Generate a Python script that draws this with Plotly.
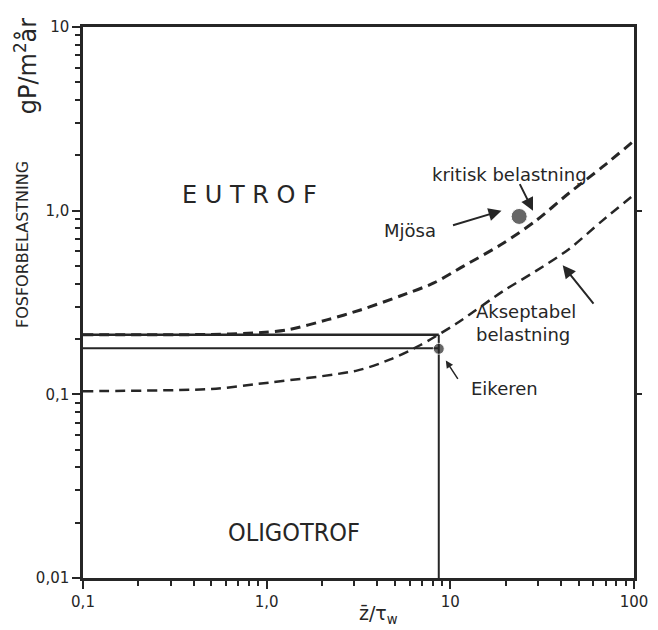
import numpy as np
import plotly.graph_objects as go

# ---- data ----
x_crit = [0.1, 0.5, 0.935, 1.31, 2.15, 3.24, 5.33, 8.13, 11.8, 19.4, 29.3, 44.0, 67.3, 100.0]
y_crit = [0.211, 0.212, 0.217, 0.225, 0.255, 0.288, 0.343, 0.404, 0.499, 0.664, 0.883, 1.24, 1.73, 2.40]

x_acc = [0.1, 0.5, 0.902, 3.13, 4.71, 6.84, 10.8, 19.4, 29.3, 44.0, 67.3, 100.0]
y_acc = [0.104, 0.107, 0.114, 0.135, 0.155, 0.185, 0.243, 0.365, 0.470, 0.615, 0.883, 1.22]

lakes = ["Mjösa", "Eikeren"]
lake_x = [23.7, 8.65]
lake_y = [0.93, 0.177]

ref_h_upper = 0.211   # horizontal line level (critical at low z/tw)
ref_h_lower = 0.178   # horizontal line through Eikeren
x_lo, x_hi = 0.1, 100
y_lo, y_hi = 0.01, 10

x_tickvals = [0.1, 1, 10, 100]
x_ticktext = ["0,1", "1,0", "10", "100"]
y_tickvals = [0.01, 0.1, 1, 10]
y_ticktext = ["0,01", "0,1", "1,0", "10"]

FONT_C = "DejaVu Sans Condensed, DejaVu Sans, sans-serif"
FONT = "DejaVu Sans, sans-serif"
INK = "#262626"
DASH = "10px,6px"

minor_vals_x = [m * d for d in (0.1, 1, 10) for m in range(2, 10)]
minor_vals_y = [m * d for d in (0.01, 0.1, 1) for m in range(2, 10)]

fig = go.Figure()

# reference lines for Eikeren
fig.add_trace(go.Scatter(x=[x_lo, lake_x[1]], y=[ref_h_upper, ref_h_upper], mode="lines",
                         line=dict(color=INK, width=2.5), hoverinfo="skip", showlegend=False))
fig.add_trace(go.Scatter(x=[x_lo, lake_x[1]], y=[ref_h_lower, ref_h_lower], mode="lines",
                         line=dict(color=INK, width=2), hoverinfo="skip", showlegend=False))
fig.add_trace(go.Scatter(x=[lake_x[1], lake_x[1]], y=[ref_h_upper, y_lo], mode="lines",
                         line=dict(color=INK, width=2), hoverinfo="skip", showlegend=False))

# curves
fig.add_trace(go.Scatter(x=x_crit, y=y_crit, mode="lines",
                         line=dict(color=INK, width=3, dash=DASH, shape="spline", smoothing=0.8),
                         showlegend=False, name="kritisk belastning"))
fig.add_trace(go.Scatter(x=x_acc, y=y_acc, mode="lines",
                         line=dict(color=INK, width=2.5, dash=DASH, shape="spline", smoothing=0.8),
                         showlegend=False, name="akseptabel belastning"))

# lakes
fig.add_trace(go.Scatter(x=lake_x, y=lake_y, mode="markers",
                         marker=dict(color=INK, size=[16, 11]), showlegend=False, text=lakes))

# invisible trace for right axis ticks
fig.add_trace(go.Scatter(x=[x_lo], y=[y_lo], yaxis="y2", mode="markers",
                         marker=dict(opacity=0), hoverinfo="skip", showlegend=False))

tf = dict(family=FONT, size=18, color=INK)

def lg(v):
    return float(np.log10(v))

ann = []
# region labels
ann.append(dict(x=lg(0.81), y=lg(1.21), text="E U T R O F", showarrow=False,
                font=dict(family=FONT, size=24, color=INK)))
ann.append(dict(x=lg(1.40), y=lg(0.0176), text="OLIGOTROF", showarrow=False,
                font=dict(family=FONT_C, size=25, color=INK)))
# curve labels
ann.append(dict(x=lg(20.9), y=lg(1.58), text="kritisk belastning", showarrow=False, font=tf))
ann.append(dict(x=lg(25.8), y=lg(0.245), text="Akseptabel<br>belastning", showarrow=False,
                font=tf, align="left"))
ann.append(dict(x=lg(6.05), y=lg(0.78), text="Mjösa", showarrow=False, font=tf))
ann.append(dict(x=lg(19.6), y=lg(0.108), text="Eikeren", showarrow=False, font=tf))
# arrows
ann.append(dict(x=lg(19.0), y=lg(1.0), ax=-50, ay=15, text="", showarrow=True,
                arrowhead=2, arrowsize=1.3, arrowwidth=2, arrowcolor=INK))
ann.append(dict(x=lg(28.2), y=lg(1.0), ax=-14, ay=-28, text="", showarrow=True,
                arrowhead=2, arrowsize=1.3, arrowwidth=2, arrowcolor=INK))
ann.append(dict(x=lg(40.9), y=lg(0.505), ax=32, ay=40, text="", showarrow=True,
                arrowhead=2, arrowsize=1.3, arrowwidth=2, arrowcolor=INK))
ann.append(dict(x=lg(9.45), y=lg(0.153), ax=13, ay=20, text="", showarrow=True,
                arrowhead=2, arrowsize=1.0, arrowwidth=1.5, arrowcolor=INK))
# axis titles
ann.append(dict(xref="paper", yref="paper", x=-0.110, y=0.605, xanchor="center", yanchor="middle",
                text="FOSFORBELASTNING", textangle=-90, showarrow=False,
                font=dict(family=FONT, size=16, color=INK)))
ann.append(dict(xref="paper", yref="paper", x=-0.104, y=0.93, xanchor="center", yanchor="middle",
                text="gP/m<sup>2</sup>år", textangle=-90, showarrow=False,
                font=dict(family=FONT, size=24, color=INK)))
ann.append(dict(xref="paper", yref="paper", x=0.536, y=-0.066, xanchor="center", yanchor="middle",
                text="z̄/τ<sub>w</sub>", showarrow=False,
                font=dict(family=FONT, size=19, color=INK)))

axis_common = dict(type="log", showgrid=False, zeroline=False, showline=True,
                   linecolor=INK, linewidth=2.5, ticks="outside", tickcolor=INK,
                   ticklen=8, tickwidth=2, tickfont=dict(family=FONT, size=15, color=INK))

fig.update_layout(
    width=650, height=622,
    margin=dict(l=75, r=12, t=10, b=52),
    paper_bgcolor="white", plot_bgcolor="white",
    xaxis=dict(**axis_common, range=[lg(x_lo), lg(x_hi)], mirror=True,
               tickvals=x_tickvals, ticktext=x_ticktext,
               minor=dict(tickvals=minor_vals_x, ticks="outside", ticklen=5, tickcolor=INK, tickwidth=1.5)),
    yaxis=dict(**axis_common, range=[lg(y_lo), lg(y_hi)], mirror=True,
               tickvals=y_tickvals, ticktext=y_ticktext,
               minor=dict(tickvals=minor_vals_y, ticks="outside", ticklen=5, tickcolor=INK, tickwidth=1.5)),
    yaxis2=dict(type="log", overlaying="y", side="right", range=[lg(y_lo), lg(y_hi)],
                showgrid=False, zeroline=False, showline=False, ticks="outside",
                tickvals=[0.1, 1], ticklen=7, tickwidth=2, tickcolor=INK, showticklabels=False),
    annotations=ann,
    showlegend=False,
)

fig.write_html("out.html")
